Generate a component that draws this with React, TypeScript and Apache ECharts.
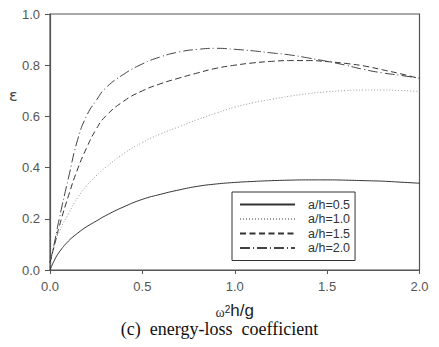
import React, { useEffect, useRef } from "react";
import * as echarts from "echarts";

const X = [0, 0.025, 0.05, 0.1, 0.15, 0.2, 0.25, 0.3, 0.4, 0.5, 0.6, 0.7, 0.8, 0.9, 1.0, 1.1, 1.2, 1.3, 1.4, 1.5, 1.6, 1.7, 1.8, 1.9, 2.0];
const AH05 = [0, 0.04, 0.07, 0.113, 0.144, 0.17, 0.191, 0.212, 0.247, 0.276, 0.296, 0.313, 0.327, 0.336, 0.342, 0.346, 0.349, 0.351, 0.352, 0.352, 0.351, 0.349, 0.347, 0.343, 0.339];
const AH10 = [0.02, 0.1, 0.15, 0.22, 0.283, 0.33, 0.368, 0.4, 0.455, 0.498, 0.532, 0.56, 0.588, 0.613, 0.636, 0.653, 0.667, 0.679, 0.689, 0.696, 0.701, 0.703, 0.703, 0.701, 0.697];
const AH15 = [0.03, 0.1, 0.17, 0.29, 0.395, 0.48, 0.55, 0.6, 0.66, 0.7, 0.728, 0.75, 0.77, 0.788, 0.8, 0.809, 0.815, 0.818, 0.818, 0.814, 0.807, 0.797, 0.782, 0.766, 0.748];
const AH20 = [0.03, 0.11, 0.2, 0.36, 0.51, 0.605, 0.662, 0.71, 0.765, 0.805, 0.833, 0.852, 0.862, 0.866, 0.862, 0.856, 0.848, 0.84, 0.828, 0.815, 0.8, 0.783, 0.77, 0.76, 0.749];
const NAMES = ["a/h=0.5", "a/h=1.0", "a/h=1.5", "a/h=2.0"];

const pairs = (ys: number[]) => X.map((x, i) => [x, ys[i]]);

export default function App() {
  const ref = useRef<HTMLDivElement>(null);
  useEffect(() => {
    const chart = echarts.init(ref.current!, null, { renderer: "svg" });
    const sans = "'Liberation Sans', Arial, sans-serif";
    const mk = (name: string, ys: number[], color: string, type: any, width = 1) => ({
      name,
      type: "line",
      data: pairs(ys),
      smooth: true,
      symbol: "none",
      showSymbol: false,
      lineStyle: { color, width, type },
      itemStyle: { color },
    });
    chart.setOption({
      animation: false,
      grid: { left: 50, right: 19.5, top: 14, bottom: 77, show: true, borderColor: "#555", borderWidth: 1.2 },
      xAxis: {
        type: "value",
        min: 0,
        max: 2,
        interval: 0.5,
        axisLine: { show: true, lineStyle: { color: "#555", width: 1.2 } },
        axisTick: { show: true, inside: false, length: 4, lineStyle: { color: "#555" } },
        splitLine: { show: false },
        axisLabel: { color: "#555", fontSize: 13, fontFamily: sans, margin: 10, formatter: (v: number) => v.toFixed(1) },
        name: "{w|ω}{s|2}{t|h/g}",
        nameLocation: "middle",
        nameGap: 34,
        nameTextStyle: {
          lineHeight: 15,
          rich: {
            w: { fontFamily: "'Liberation Serif', serif", fontSize: 14, color: "#333", lineHeight: 15, verticalAlign: "bottom" },
            s: { fontFamily: sans, fontSize: 10, color: "#222", lineHeight: 15, verticalAlign: "top" },
            t: { fontFamily: sans, fontSize: 17, color: "#222", lineHeight: 15, verticalAlign: "bottom" },
          },
        },
      },
      yAxis: {
        type: "value",
        min: 0,
        max: 1,
        interval: 0.2,
        axisLine: { show: true, lineStyle: { color: "#555", width: 1.2 } },
        axisTick: { show: true, inside: false, length: 5, lineStyle: { color: "#555" } },
        splitLine: { show: false },
        axisLabel: { color: "#555", fontSize: 13, fontFamily: sans, margin: 10, formatter: (v: number) => v.toFixed(1) },
      },
      legend: {
        orient: "vertical",
        left: 232,
        top: 192,
        data: NAMES,
        itemWidth: 55,
        itemHeight: 14,
        itemGap: 1.5,
        padding: [6, 5, 6, 7],
        borderColor: "#333",
        borderWidth: 1,
        itemStyle: { opacity: 0 },
        textStyle: { fontFamily: sans, fontSize: 12.5, color: "#333", padding: [0, 0, 0, 8] },
      },
      graphic: [
        {
          type: "text",
          left: 9,
          top: 87,
          style: { text: "ε", font: "16px 'DejaVu Sans', sans-serif", fill: "#444" },
        },
        {
          type: "text",
          left: "center",
          top: 320,
          style: { text: "(c)  energy-loss  coefficient", font: "18px 'Liberation Serif', serif", fill: "#111" },
        },
      ],
      series: [
        mk(NAMES[0], AH05, "#333", "solid"),
        mk(NAMES[1], AH10, "#999", [1, 2]),
        mk(NAMES[2], AH15, "#333", [6, 3.5]),
        mk(NAMES[3], AH20, "#444", [10, 3, 1, 3]),
      ],
    });
    return () => chart.dispose();
  }, []);
  return <div ref={ref} style={{ width: 439, height: 347, position: "absolute", left: 0, top: 0 }} />;
}
